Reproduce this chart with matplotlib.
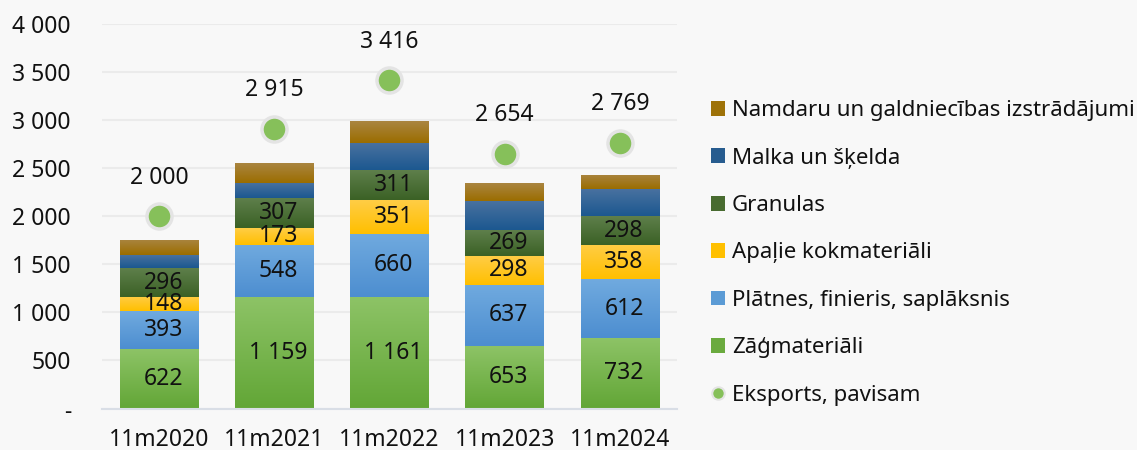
import numpy as np
import matplotlib
matplotlib.use("Agg")
import matplotlib.pyplot as plt
from matplotlib.lines import Line2D
from matplotlib.patches import Patch
from matplotlib.colors import to_rgb

categories = ['11m2020', '11m2021', '11m2022', '11m2023', '11m2024']
zagmateriali = [622, 1159, 1161, 653, 732]
platnes = [393, 548, 660, 637, 612]
apalie = [148, 173, 351, 298, 358]
granulas = [296, 307, 311, 269, 298]
malka = [139, 160, 282, 306, 282]
namdaru = [157, 205, 226, 185, 146]
eksports = [2000, 2915, 3416, 2654, 2769]

series_names = ['Zāģmateriāli', 'Plātnes, finieris, saplāksnis', 'Apaļie kokmateriāli',
                'Granulas', 'Malka un šķelda', 'Namdaru un galdniecības izstrādājumi']
series_vals = [zagmateriali, platnes, apalie, granulas, malka, namdaru]
labelled = [True, True, True, True, False, False]
base_cols = ['#6aaa3e', '#5b9bd5', '#ffc000', '#486b30', '#275c8f', '#9e7208']
top_cols = ['#8dc366', '#70aadf', '#ffcd45', '#5e7f4b', '#4a72a0', '#aa8540']
bot_cols = ['#62a636', '#4d8ed0', '#ffbf00', '#3b6125', '#1c5890', '#9b6d00']
total_name = 'Eksports, pavisam'

plt.rcParams['font.family'] = ['Noto Sans', 'DejaVu Sans']
FS = 16.5
LFS = 16
TXT = '#111111'
BG = '#f8f8f8'

fig = plt.figure(figsize=(11.37, 4.5), dpi=100, facecolor=BG)
ax = fig.add_axes([0.0893, 0.0922, 0.5065, 0.8538], facecolor=BG)

x = np.arange(len(categories))
width = 0.68
bottom = np.zeros(len(categories))
handles = []
for name, vals, lab, bc, tc, btc in zip(series_names, series_vals, labelled, base_cols, top_cols, bot_cols):
    vals = np.array(vals, dtype=float)
    bars = ax.bar(x, vals, width, bottom=bottom, color=bc, zorder=2, linewidth=0)
    for rect in bars:
        rx, ry, rw, rh = rect.get_x(), rect.get_y(), rect.get_width(), rect.get_height()
        t = np.linspace(0, 1, 64)[:, None]
        img = (np.array(to_rgb(tc)) * (1 - t) + np.array(to_rgb(btc)) * t)[:, None, :]
        im = ax.imshow(img, extent=(rx, rx + rw, ry, ry + rh), origin='upper',
                       aspect='auto', zorder=2.1, interpolation='bilinear')
        im.set_clip_path(rect)
    if lab:
        for xi, b, v in zip(x, bottom, vals):
            ax.annotate(f"{int(v):,}".replace(',', ' '), (xi, b + v / 2), xytext=(3, 0),
                        textcoords='offset points', ha='center', va='center',
                        fontsize=FS, color=TXT, zorder=5)
    handles.append(Patch(facecolor=bc, label=name))
    bottom += vals

ax.plot(x, eksports, ls='none', marker='o', ms=18, mfc='#86c05a', mec='#e4e4e4', mew=2.5, zorder=4)
for xi, v in zip(x, eksports):
    ax.annotate(f"{v:,}".replace(',', ' '), (xi, v), xytext=(0, 28), textcoords='offset points',
                ha='center', va='center', fontsize=FS, color=TXT)

ax.set_xlim(-0.5, len(categories) - 0.5)
ax.set_ylim(0, 4000)
yt = np.arange(0, 4001, 500)
ax.set_yticks(yt)
ax.set_yticklabels(['-' if v == 0 else f"{v:,}".replace(',', ' ') for v in yt])
ax.set_xticks(x)
ax.set_xticklabels(categories)
ax.tick_params(axis='both', length=0, labelsize=FS, colors=TXT)
ax.tick_params(axis='y', pad=22)
ax.tick_params(axis='x', pad=14)
ax.yaxis.grid(True, color='#ebebeb', lw=1.5, zorder=0)
ax.set_axisbelow(True)
for s in ['top', 'right', 'left']:
    ax.spines[s].set_visible(False)
ax.spines['bottom'].set_color('#d9dee6')
ax.spines['bottom'].set_linewidth(1.5)

leg_handles = handles[::-1] + [Line2D([], [], ls='none', marker='o', ms=9, mfc='#86c05a',
                                      mec='#e4e4e4', mew=1.5, label=total_name)]
leg = fig.legend(handles=leg_handles, loc='upper left', bbox_to_anchor=(0.6255, 0.7776),
                 frameon=False, fontsize=LFS, handlelength=0.64, handleheight=0.64,
                 handletextpad=0.3, labelspacing=1.19, borderpad=0, borderaxespad=0)
for t in leg.get_texts():
    t.set_color(TXT)

fig.savefig('out.png', dpi=100, facecolor=BG)
